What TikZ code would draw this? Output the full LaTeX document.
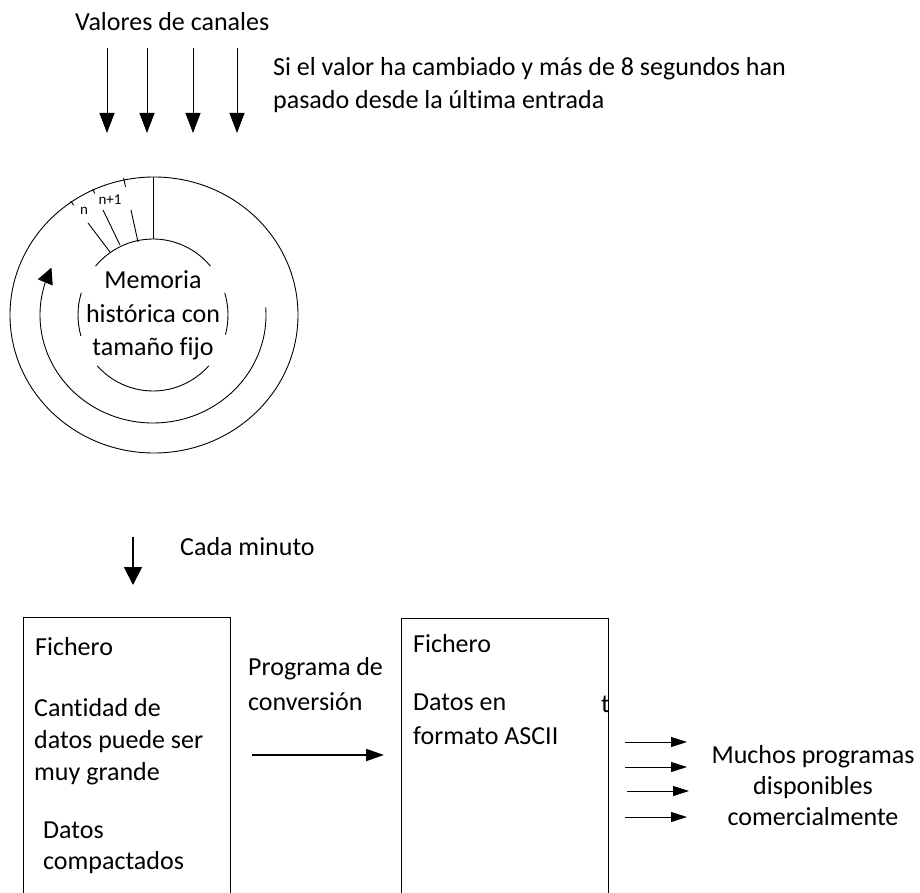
\documentclass[tikz,border=0pt]{standalone}
\usepackage{fontspec}
\setmainfont{Carlito}[Ligatures={NoCommon}]
\usetikzlibrary{arrows.meta,bending}
\begin{document}
\begin{tikzpicture}[x=1pt,y=1pt,
  txt/.style={inner sep=0pt,font=\fontsize{26}{32}\selectfont},
  lbl/.style={txt,anchor=base west},
  clbl/.style={txt,anchor=base},
  small/.style={inner sep=0pt,font=\fontsize{15}{18}\selectfont},
  ln/.style={line width=0.9pt},
  inarrow/.style={line width=1pt,-{Triangle[width=15pt,length=20pt]}},
  bigarrow/.style={line width=1.8pt,-{Triangle[width=18pt,length=18pt]}},
  convarrow/.style={line width=1.8pt,-{Triangle[width=12pt,length=18pt]}},
  outarrow/.style={line width=1pt,-{Triangle[width=10pt,length=16pt]}},
  filebox/.style={draw,line width=1.3pt,minimum width=207pt,minimum height=290pt,anchor=north west,inner sep=0pt},
]
\useasboundingbox (0,0) rectangle (920,-893);
\clip (0,0) rectangle (920,-893);

% top texts
\node[lbl] (valores) at (75,-31) {Valores de canales};
\node[lbl] (si1) at (273,-76) {Si el valor ha cambiado y más de 8 segundos han};
\node[lbl] (si2) at (273,-109) {pasado desde la última entrada};

% four input arrows
\foreach \i/\x in {1/107,2/147,3/193,4/237}{
  \coordinate (in\i s) at (\x,-48);
  \coordinate (in\i e) at (\x,-133);
  \draw[inarrow] (in\i s) -- (in\i e);
}

% ring buffer
\coordinate (c) at (153,-315);
\draw[ln] (154,-315) ellipse [x radius=144, y radius=138];
\draw[ln,-{Triangle[width=16pt,length=16pt]}] ([shift={(4:113 and 108)}]c)
  arc[start angle=4, end angle=-206, x radius=113, y radius=108];
% inner broken circle
\draw[ln] ([shift={(40:75 and 76)}]c) arc[start angle=40, end angle=140, x radius=75, y radius=76];
\draw[ln] ([shift={(-15:75 and 76)}]c) arc[start angle=-15, end angle=17, x radius=75, y radius=76];
\draw[ln] ([shift={(163:75 and 76)}]c) arc[start angle=163, end angle=196, x radius=75, y radius=76];
\draw[ln] ([shift={(222:75 and 76)}]c) arc[start angle=222, end angle=318, x radius=75, y radius=76];
% slot lines
\coordinate (topo) at (153,-177);
\coordinate (topi) at (153,-239);
\draw[ln] (topo) -- (topi);
\coordinate (s1a) at (138,-242); \coordinate (s1b) at (131,-210);
\coordinate (s2a) at (120,-245); \coordinate (s2b) at (103,-210);
\coordinate (s3a) at (110,-252); \coordinate (s3b) at (88,-223);
\draw[ln] (s1a) -- (s1b);
\draw[ln] (s2a) -- (s2b);
\draw[ln] (s3a) -- (s3b);
% small ticks on outer circle
\draw[ln] ([shift={(102:137 and 131)}]154,-315) -- ([shift={(102:146 and 140)}]154,-315);
\foreach \a in {115,125}{
  \draw[ln] ([shift={(\a:140 and 134)}]154,-315) -- ([shift={(\a:145 and 139)}]154,-315);
}
\node[small,anchor=base] (nlab) at (84,-215) {n};
\node[small,anchor=base] (n1lab) at (110,-205) {n+1};

\node[clbl] (mem1) at (153,-288) {Memoria};
\node[clbl] (mem2) at (153,-322) {histórica con};
\node[clbl] (mem3) at (153,-355) {tamaño fijo};

% every minute
\coordinate (cms) at (133,-537);
\coordinate (cme) at (133,-585);
\draw[bigarrow] (cms) -- (cme);
\node[lbl] (cada) at (180,-555) {Cada minuto};

% left file box
\node[filebox] (box1) at (23,-617) {};
\node[lbl] (f1) at (35,-655) {Fichero};
\node[lbl] (l1) at (34,-716) {Cantidad de};
\node[lbl] (l2) at (34,-748) {datos puede ser};
\node[lbl] (l3) at (34,-780) {muy grande};
\node[lbl] (l4) at (43,-838) {Datos};
\node[lbl] (l5) at (43,-869) {compactados};

% conversion
\node[lbl] (p1) at (248,-675) {Programa de};
\node[lbl] (p2) at (248,-710) {conversión};
\coordinate (cvs) at (252,-755);
\coordinate (cve) at (384,-755);
\draw[convarrow] (cvs) -- (cve);

% right file box
\node[filebox] (box2) at (401,-618) {};
\node[lbl] (f2) at (413,-652) {Fichero};
\node[lbl] (r1) at (413,-710) {Datos en};
\node[lbl] (r2) at (413,-744) {formato ASCII};
\node[lbl] (rt) at (601,-712) {t};

% output arrows
\foreach \i/\y/\xa/\xb in {1/742/625/687,2/767/625/687,3/791/627/689,4/817/625/687}{
  \coordinate (o\i s) at (\xa,-\y);
  \coordinate (o\i e) at (\xb,-\y);
  \draw[outarrow] (o\i s) -- (o\i e);
}
\node[clbl] (m1) at (813,-763) {Muchos programas};
\node[clbl] (m2) at (813,-794) {disponibles};
\node[clbl] (m3) at (813,-825) {comercialmente};
\end{tikzpicture}
\end{document}
